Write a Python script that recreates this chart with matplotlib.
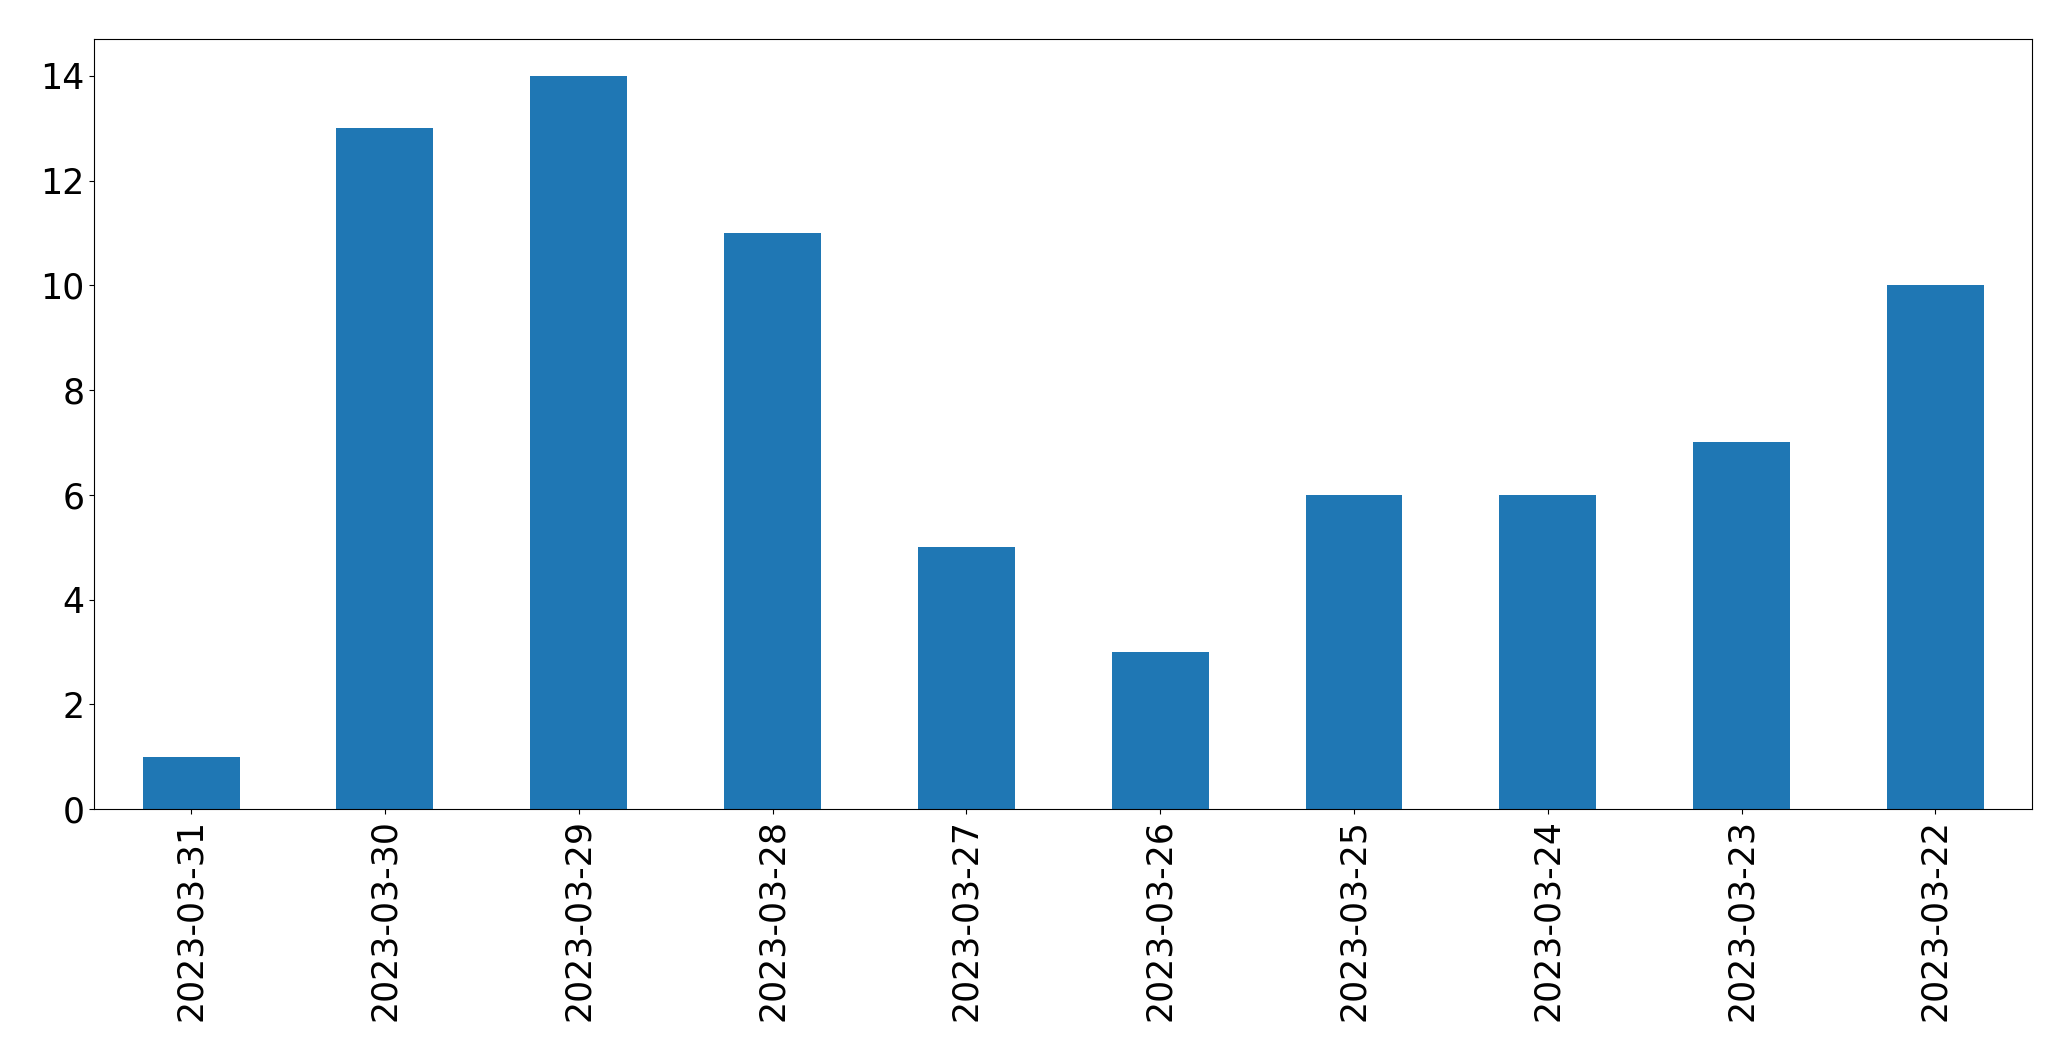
import matplotlib
matplotlib.use("Agg")
import matplotlib.pyplot as plt

# Dates (newest first) and counts per day
dates = ["2023-03-31", "2023-03-30", "2023-03-29", "2023-03-28", "2023-03-27",
         "2023-03-26", "2023-03-25", "2023-03-24", "2023-03-23", "2023-03-22"]
counts = [1, 13, 14, 11, 5, 3, 6, 6, 7, 10]

fig, ax = plt.subplots(figsize=(20.71, 10.61), dpi=100)
fig.subplots_adjust(left=0.0455, right=0.9813, top=0.963, bottom=0.2375)

positions = range(len(dates))
ax.bar(positions, counts, width=0.5, color="#1f77b4")
ax.set_xlim(-0.5, len(dates) - 0.5)
ax.set_xticks(list(positions))
ax.set_xticklabels(dates, rotation=90)
ax.tick_params(axis="both", labelsize=25)

fig.savefig("out.png", dpi=100)
